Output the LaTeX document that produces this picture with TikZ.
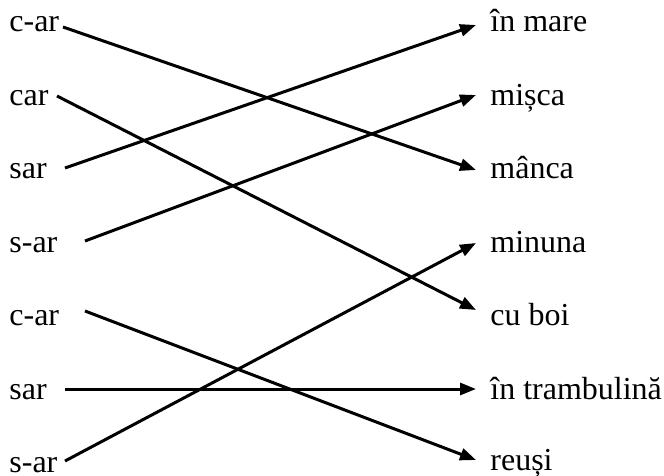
\documentclass[tikz,border=0pt]{standalone}
\usepackage{fontspec}
\setmainfont{Liberation Serif}
\usetikzlibrary{arrows.meta}
\begin{document}
\begin{tikzpicture}[x=0.5pt,y=-0.5pt,
  lbl/.style={anchor=base west,inner sep=0pt,font=\fontsize{16}{19}\selectfont},
  arr/.style={line width=1.5pt,-{Triangle[length=8pt,width=6pt]}}]
\useasboundingbox (0,0) rectangle (664,476);
% left labels
\node[lbl] (l1) at (9,32) {c-ar};
\node[lbl] (l2) at (9,105) {car};
\node[lbl] (l3) at (9,178) {sar};
\node[lbl] (l4) at (9,252) {s-ar};
\node[lbl] (l5) at (9,325) {c-ar};
\node[lbl] (l6) at (9,399) {sar};
\node[lbl] (l7) at (9,472) {s-ar};
% right labels
\node[lbl] (r1) at (490,32) {în mare};
\node[lbl] (r2) at (490,105) {mișca};
\node[lbl] (r3) at (490,178) {mânca};
\node[lbl] (r4) at (490,252) {minuna};
\node[lbl] (r5) at (490,325) {cu boi};
\node[lbl] (r6) at (490,399) {în trambulină};
\node[lbl] (r7) at (490,470) {reuși};
% connector ends
\coordinate (s1) at (63,27);
\coordinate (s2) at (57,96);
\coordinate (s3) at (65,168);
\coordinate (s4) at (85,241);
\coordinate (s5) at (85,311);
\coordinate (s6) at (65,389);
\coordinate (s7) at (65,461);
\coordinate (t1) at (476,25);
\coordinate (t2) at (476,95);
\coordinate (t3) at (476,170);
\coordinate (t4) at (476,243);
\coordinate (t5) at (476,310);
\coordinate (t6) at (476,389);
\coordinate (t7) at (476,460);
\draw[arr] (s1) -- (t3);
\draw[arr] (s2) -- (t5);
\draw[arr] (s3) -- (t1);
\draw[arr] (s4) -- (t2);
\draw[arr] (s5) -- (t7);
\draw[arr] (s6) -- (t6);
\draw[arr] (s7) -- (t4);
\end{tikzpicture}
\end{document}
